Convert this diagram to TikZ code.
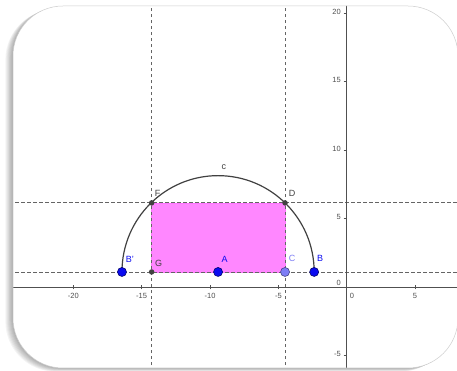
\documentclass[tikz,border=0pt]{standalone}
\usepackage{fontspec}
\setmainfont{Liberation Sans}
\usetikzlibrary{calc}
\definecolor{axisgray}{RGB}{80,80,80}
\definecolor{guidegray}{RGB}{100,100,100}
\definecolor{ptblue}{RGB}{10,10,240}
\definecolor{ptlight}{RGB}{125,125,245}
\definecolor{ptdark}{RGB}{65,65,65}
\definecolor{rectpink}{RGB}{255,135,255}
\definecolor{framegray}{RGB}{205,205,205}
\tikzset{
  axis-line/.style={draw=axisgray, line width=1pt},
  tick-mark/.style={draw=axisgray, line width=0.6pt},
  guide-line/.style={draw=guidegray, line width=0.9pt, dash pattern=on 3.5pt off 2.5pt},
  tick-label/.style={font=\fontsize{7.5}{8}\selectfont, text=axisgray, inner sep=0pt},
  arc-line/.style={draw=ptdark, line width=1.2pt},
  rect-edge/.style={draw=rectpink!85!magenta, line width=0.8pt},
  free-point/.style={circle, draw=black!55!ptblue, fill=ptblue, line width=0.6pt,
    minimum size=9pt, inner sep=0pt},
  slide-point/.style={circle, draw=black!45!ptlight, fill=ptlight, line width=0.6pt,
    minimum size=9pt, inner sep=0pt},
  dep-point/.style={circle, fill=ptdark, minimum size=5.5pt, inner sep=0pt},
  pt-label/.style={font=\fontsize{9}{10}\selectfont, inner sep=0pt},
  panel/.style={rounded corners=50pt}
}
\begin{document}
\begin{tikzpicture}[x=1pt, y=1pt]
\useasboundingbox (0,0) rectangle (457,371);
% shadow of the panel
\foreach \d in {1,...,8}
  \fill[black, opacity=0.045, panel, shift={(-\d*0.95,-\d*0.45)}] (13,3) rectangle (458,365);
% white panel
\fill[white, panel] (13,3) rectangle (458,365);

\begin{scope}
\clip[panel] (13,3) rectangle (458,365);
\begin{scope}[shift={(346.7pt,83.7pt)}, x=13.67pt, y=13.7pt]
% points of the construction
\coordinate (A) at (-9.41,1.12);
\coordinate (B) at (-2.38,1.12);
\coordinate (Bp) at (-16.44,1.12);
\coordinate (C) at (-4.51,1.12);
\coordinate (D) at (-4.51,6.16);
\coordinate (F) at (-14.27,6.16);
\coordinate (G) at (-14.27,1.12);

% rectangle
\fill[rectpink] (G) rectangle (D);
\draw[rect-edge] (G) -- (C) -- (D) -- (F) -- cycle;

% dashed guide lines
\draw[guide-line] (-14.27,-7) -- (-14.27,22);
\draw[guide-line] (-4.51,-7) -- (-4.51,22);
\draw[guide-line] (-26,6.16) -- (10,6.16);
\draw[guide-line] (-26,1.12) -- (10,1.12);

% axes
\draw[axis-line] (-26,0) -- (10,0);
\draw[axis-line] (0,-7) -- (0,22);
\foreach \v in {-20,-15,-10,-5,5}
  \draw[tick-mark] (\v,-0.15) -- (\v,0.15);
\foreach \v in {-5,5,10,15,20}
  \draw[tick-mark] (-0.22,\v) -- (0,\v);
\foreach \v in {-20,-15,-10,-5,5}
  \node[tick-label] at (\v,-0.64) {\v};
\node[tick-label] at (0.39,-0.64) {0};
\foreach \v in {-5,5,10,15,20}
  \node[tick-label, anchor=east] at (-0.42,\v+0.12) {\v};
\node[tick-label, anchor=east] at (-0.42,0.31) {0};

% semicircle c
\draw[arc-line] (B) arc[start angle=0, end angle=180, radius=7.03];
\node[pt-label, text=ptdark] (clabel) at (-8.98,8.78) {c};

% point markers
\node[dep-point, label={[pt-label, text=ptdark, shift={(6pt,9pt)}]center:F}] (pF) at (F) {};
\node[dep-point, label={[pt-label, text=ptdark, shift={(7pt,9pt)}]center:D}] (pD) at (D) {};
\node[dep-point, label={[pt-label, text=ptdark, shift={(7pt,8.5pt)}]center:G}] (pG) at (G) {};
\node[free-point, label={[pt-label, text=ptblue, shift={(8pt,13pt)}]center:B'}] (pBp) at (Bp) {};
\node[free-point, label={[pt-label, text=ptblue, shift={(6.5pt,13pt)}]center:A}] (pA) at (A) {};
\node[free-point, label={[pt-label, text=ptblue, shift={(6pt,13.5pt)}]center:B}] (pB) at (B) {};
\node[slide-point, label={[pt-label, text=ptlight, shift={(7pt,13.5pt)}]center:C}] (pC) at (C) {};
\end{scope}
\end{scope}

% panel border
\draw[framegray, line width=0.5pt, panel] (13,3) rectangle (458,365);
\end{tikzpicture}
\end{document}
